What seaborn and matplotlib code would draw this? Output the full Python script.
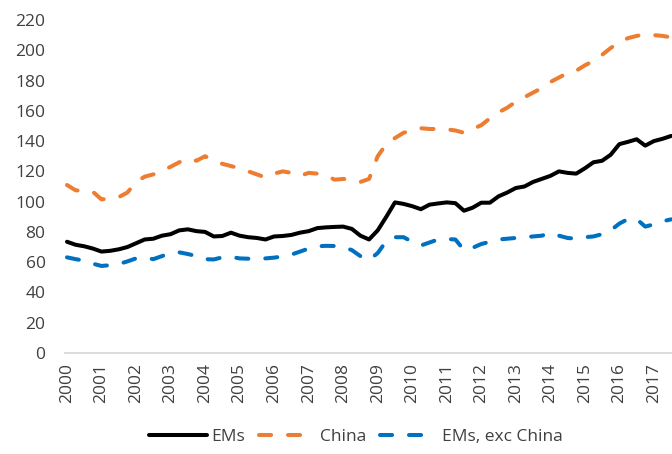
import pandas as pd
import numpy as np
import matplotlib
matplotlib.use("Agg")
import matplotlib.pyplot as plt
import seaborn as sns

# quarterly values, 2000Q1 .. 2017Q3
ems = [73.5, 71.5, 70.5, 69, 67, 67.5, 68.5, 70, 72.5, 75,
       75.5, 77.5, 78.5, 81, 81.7, 80.5, 80, 77, 77.3, 79.5,
       77.5, 76.5, 76, 75, 77, 77.3, 78, 79.5, 80.5, 82.5,
       83, 83.3, 83.5, 82, 77.5, 75, 81, 90, 99.5, 98.5,
       97, 95, 98, 98.8, 99.5, 99, 94, 96, 99.3, 99.3,
       103.5, 106, 109, 110, 113, 115, 117, 120, 119, 118.5,
       122, 126, 127, 131, 138, 139.5, 141.2, 137, 140, 141.5,
       143.4]
china = [111, 107.5, 107, 106.5, 101.5, 102, 103, 106, 113, 116.5,
         118, 120.5, 123, 126, 128.5, 127, 130, 127, 125, 123.5,
         122, 120, 118, 116, 118.5, 120, 119, 117, 119, 118.5,
         117.5, 114.5, 115, 114.5, 113, 115, 130, 138, 142, 145.5,
         147, 148.5, 148, 148, 147.8, 147, 145.5, 148, 150.5, 155,
         159, 162, 166, 169, 172, 175, 179, 182, 185, 186.5,
         190, 193, 197, 201.5, 205.5, 208, 209.5, 210.5, 210, 209.5,
         208.5]
ems_ex_china = [63.2, 62, 61, 59, 57.5, 58, 58.8, 60.5, 62.5, 63,
                62, 64, 66, 66.5, 65.4, 64, 62, 61.8, 63.2, 63.5,
                62.5, 62.3, 62.2, 62.5, 63, 63.8, 65, 67, 69, 70.5,
                70.8, 70.7, 70, 68, 64, 61.5, 66, 74, 76.5, 76.5,
                73.5, 71, 73, 75, 75.3, 75, 68, 69.5, 72, 73.5,
                75, 75.5, 76, 76.5, 77, 77.5, 79.3, 77.5, 76, 75.5,
                76.5, 77, 78.5, 81, 85.5, 88.5, 88.5, 83.5, 85, 87,
                88.3]
series_names = ["EMs", "China", "EMs, exc China"]
years = list(range(2000, 2018))

n = len(ems)
df = pd.DataFrame({
    "q": np.tile(np.arange(n), 3),
    "value": ems + china + ems_ex_china,
    "series": np.repeat(series_names, n),
})

sns.set_style("white")
plt.rcParams["font.family"] = ["Open Sans", "DejaVu Sans"]
text_col = "#404040"

fig = plt.figure(figsize=(6.72, 4.54), dpi=100)
ax = fig.add_axes([65 / 672, 101 / 454, 607 / 672, 333 / 454])

palette = {"EMs": "#000000", "China": "#ED7D31", "EMs, exc China": "#0070C0"}
dashes = {"EMs": "", "China": (3, 4.2), "EMs, exc China": (3, 4.2)}
sns.lineplot(data=df, x="q", y="value", hue="series", style="series",
             palette=palette, dashes=dashes, linewidth=2.9, ax=ax,
             hue_order=series_names, style_order=series_names)
for ln in ax.lines:
    ln.set_dash_capstyle("round")
    ln.set_solid_capstyle("round")

ax.set_xlim(-0.23, n - 0.9)
ax.set_ylim(0, 220)
ax.set_yticks(range(0, 221, 20))
ax.set_xticks(range(0, 4 * len(years), 4))
ax.set_xticklabels([str(y) for y in years], rotation=90)
ax.tick_params(axis="y", length=0, pad=14, labelsize=12.5, labelcolor=text_col)
ax.tick_params(axis="x", length=0, pad=7, labelsize=12.5, labelcolor=text_col)
ax.set_xlabel("")
ax.set_ylabel("")
for s in ["top", "right", "left"]:
    ax.spines[s].set_visible(False)
ax.spines["bottom"].set_color("#D9D9D9")
ax.spines["bottom"].set_linewidth(1.3)

handles, labels = ax.get_legend_handles_labels()
ax.get_legend().remove()
leg = fig.legend(handles, labels, loc="center", bbox_to_anchor=(356 / 672, 17 / 454),
                 ncol=3, frameon=False, fontsize=12.5, handlelength=3.3,
                 handletextpad=0.25, columnspacing=0.8)
for t in leg.get_texts():
    t.set_color(text_col)
for h in leg.get_lines():
    h.set_linewidth(2.9)
    h.set_dash_capstyle("round")

fig.savefig("out.png", dpi=100)
